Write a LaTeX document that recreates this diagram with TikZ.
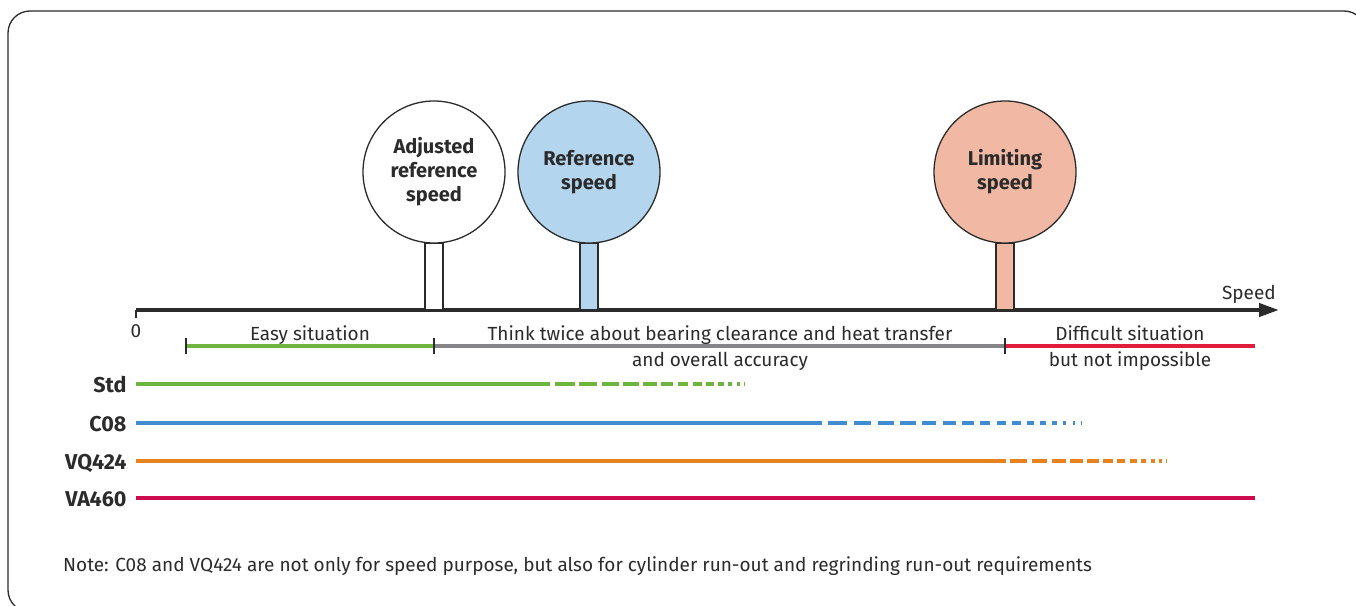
\documentclass[tikz,border=0pt]{standalone}
\usepackage{fontspec}
\setmainfont{Fira Sans}
\usetikzlibrary{arrows.meta,positioning}
\definecolor{ink}{HTML}{2B2B2B}
\definecolor{easygreen}{HTML}{6DB53F}
\definecolor{thinkgray}{HTML}{85858A}
\definecolor{hardred}{HTML}{E01E3C}
\definecolor{cblue}{HTML}{3F8DD0}
\definecolor{vqorange}{HTML}{E8821E}
\definecolor{vacrimson}{HTML}{CC0C4F}
\definecolor{refblue}{HTML}{B4D5EE}
\definecolor{limsalmon}{HTML}{F1B9A3}
\tikzset{
  bubble/.style={circle,draw=ink,line width=1.3pt,minimum size=142pt,inner sep=0pt,align=center,
    text=ink,font=\fontsize{20}{24}\selectfont\bfseries},
  stem/.style={draw=ink,line width=1.3pt},
  speedline/.style={line width=4pt},
  zonetext/.style={anchor=base,text=ink,font=\fontsize{19}{22}\selectfont},
  rowlabel/.style={anchor=base east,text=ink,font=\fontsize{21.5}{24}\selectfont\bfseries},
  zonetick/.style={ink,line width=1.3pt}
}
% #1 colour, #2 start, #3 end, #4 y, #5 first dash, #6 number of dashes
\newcommand\fadeline[6]{%
  \pgfmathsetmacro\fdstep{(#5-1)/(#6-1)}
  \pgfmathsetmacro\fdgap{((#3-#2)-#6*(#5+1)/2)/#6}
  \foreach \i in {1,...,#6}{
    \pgfmathsetmacro\fda{#2+\i*\fdgap+(\i-1)*#5-\fdstep*(\i-1)*(\i-2)/2}
    \pgfmathsetmacro\fdb{\fda+#5-\fdstep*(\i-1)}
    \draw[speedline,#1] (\fda,#4) -- (\fdb,#4);
  }}
\begin{document}
\begin{tikzpicture}[x=1pt,y=-1pt]
  \useasboundingbox (0,0) rectangle (1356,605);
  \clip (0,0) rectangle (1356,605);
  \draw[ink,line width=1.3pt,rounded corners=22pt] (8,11) rectangle (1366,612);
  % speed axis
  \coordinate (o) at (136,310);
  \coordinate (axend) at (1279,310);
  \draw[ink,line width=4pt,-{Triangle[length=20pt,width=13pt]}] (o) -- (axend);
  \draw[ink,line width=1.3pt] (o) -- ++(0,8);
  \node[anchor=base,text=ink,font=\fontsize{19}{22}\selectfont] (zero) at (136,337) {0};
  \node[anchor=base east,text=ink,font=\fontsize{19}{22}\selectfont,inner sep=0pt] (speed) at (1276,299) {Speed};
  % speed markers
  \node[bubble] (adj) at (434,172) {Adjusted\\reference\\speed};
  \node[bubble,fill=refblue] (ref) at (589,172) {Reference\\speed};
  \node[bubble,fill=limsalmon] (lim) at (1005,172) {Limiting\\speed};
  \draw[stem,fill=white] ([xshift=-9pt]adj.south) rectangle ([xshift=9pt]adj.south |- o);
  \draw[stem,fill=refblue] ([xshift=-9pt]ref.south) rectangle ([xshift=9pt]ref.south |- o);
  \draw[stem,fill=limsalmon] ([xshift=-9pt]lim.south) rectangle ([xshift=9pt]lim.south |- o);
  % zones
  \coordinate (z0) at (186,346);
  \coordinate (z1) at (434,346);
  \coordinate (z2) at (1005,346);
  \coordinate (z3) at (1255,346);
  \draw[speedline,easygreen] (z0) -- (z1);
  \draw[speedline,thinkgray] (z1) -- (z2);
  \draw[speedline,hardred] (z2) -- (z3);
  \foreach \z in {z0,z1,z2} \draw[zonetick] ([yshift=-8pt]\z) -- ([yshift=8pt]\z);
  \node[zonetext] (easy) at (310,340) {Easy situation};
  \node[zonetext] (think) at (720,340) {Think twice about bearing clearance and heat transfer};
  \node[zonetext] (think2) at (720,366) {and overall accuracy};
  \node[zonetext] (hard) at (1130,340) {Difficult situation};
  \node[zonetext] (hard2) at (1130,366) {but not impossible};
  % variants
  \node[rowlabel] (std) at (130,392) {Std};
  \node[rowlabel] (c08) at (130,431) {C08};
  \node[rowlabel] (vq) at (130,469) {VQ424};
  \node[rowlabel] (va) at (130,506) {VA460};
  \draw[speedline,easygreen] (136,384) -- (550,384);
  \fadeline{easygreen}{550}{745}{384}{20}{13}
  \draw[speedline,cblue] (136,423) -- (822,423);
  \fadeline{cblue}{822}{1082}{423}{19}{16}
  \draw[speedline,vqorange] (136,461) -- (1006,461);
  \fadeline{vqorange}{1006}{1167}{461}{17}{12}
  \draw[speedline,vacrimson] (136,498) -- (1255,498);
  \node[anchor=base west,inner sep=0pt,text=ink,font=\fontsize{19}{22}\selectfont] (note) at (63,571)
    {Note: C08 and VQ424 are not only for speed purpose, but also for cylinder run-out and regrinding run-out requirements};
\end{tikzpicture}
\end{document}
